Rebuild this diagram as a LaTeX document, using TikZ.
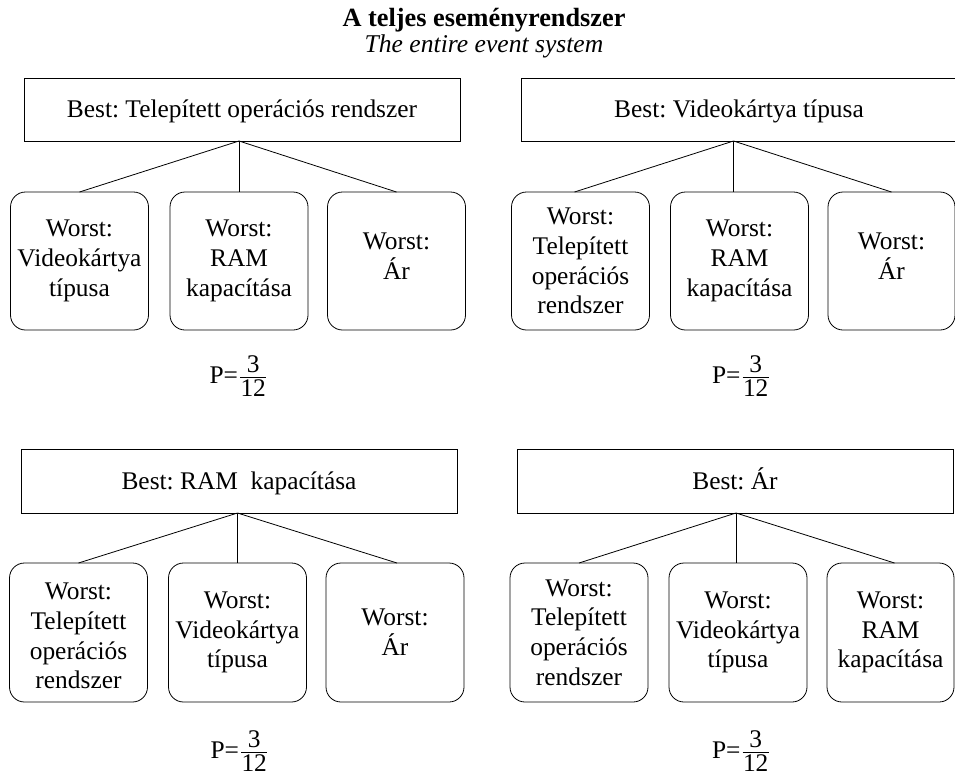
\documentclass[tikz,border=0pt]{standalone}
\usepackage{fontspec}
\setmainfont{Liberation Serif}
\frenchspacing
\newcommand\probfrac[2]{\mbox{P=}\kern2pt\lower13pt\vbox{\offinterlineskip\halign{\hfil##\hfil\cr #1\cr\noalign{\kern3.5pt\hrule height 1pt\kern1.6pt}\kern0.5pt#2\kern0.5pt\cr}}}
\begin{document}
\begin{tikzpicture}[x=1pt,y=-1pt,
  every node/.style={font=\fontsize{25.4}{29.7}\selectfont, inner sep=0pt, outer sep=0pt},
  bestbox/.style={draw, line width=0.8pt, minimum width=436pt, minimum height=63pt, text height=16.5pt, text depth=0pt},
  worstbox/.style={draw, line width=0.8pt, rounded corners=15pt, minimum width=138pt, minimum height=138pt, align=center},
  narrowbox/.style={worstbox, minimum width=127pt},
  conn/.style={line width=0.8pt},
  prob/.style={anchor=base},
]
\useasboundingbox (0,0) rectangle (955,780);
\clip (0,0) rectangle (955,780);

% title
\node[anchor=base, font=\fontsize{26.3}{30}\selectfont\bfseries] (title) at (484,26.5) {A teljes eseményrendszer};
\node[anchor=base, font=\fontsize{25.6}{30}\selectfont\itshape] (subtitle) at (484,52) {The entire event system};

% top-left group
\node[bestbox] (tlb) at (242,109.5) {Best: Telepített operációs rendszer};
\node[worstbox] (tl1) at (79.5,261) {Worst:\\Videokártya\\típusa};
\node[worstbox] (tl2) at (239,261) {Worst:\\RAM\\kapacítása};
\node[worstbox] (tl3) at (396.5,261) {Worst:\\Ár\rule[-10pt]{0pt}{0pt}};
\draw[conn] (tl2.north |- tlb.south) -- (tl1.north);
\draw[conn] (tl2.north |- tlb.south) -- (tl2.north);
\draw[conn] (tl2.north |- tlb.south) -- (tl3.north);
\node[prob] (tlp) at (238,383) {\probfrac{3}{12}};

% top-right group
\node[bestbox] (trb) at (739,109.5) {Best: Videokártya típusa};
\node[worstbox] (tr1) at (580.5,261) {Worst:\\Telepített\\operációs\\rendszer};
\node[worstbox] (tr2) at (739.5,261) {Worst:\\RAM\\kapacítása};
\node[narrowbox] (tr3) at (891.5,261) {Worst:\\Ár\rule[-10pt]{0pt}{0pt}};
\draw[conn] ([xshift=-6pt]tr2.north |- trb.south) -- ([xshift=-6pt]tr1.north);
\draw[conn] ([xshift=-6pt]tr2.north |- trb.south) -- ([xshift=-6pt]tr2.north);
\draw[conn] ([xshift=-6pt]tr2.north |- trb.south) -- (tr3.north);
\node[prob] (trp) at (740.5,383) {\probfrac{3}{12}};

% bottom-left group
\node[bestbox, minimum height=64pt] (blb) at (239,481) {Best: RAM\ \ kapacítása};
\node[worstbox, minimum height=139pt] (bl1) at (78.5,632.5) {\rule{0pt}{24pt}Worst:\\Telepített\\operációs\\rendszer};
\node[worstbox, minimum height=139pt] (bl2) at (237.5,632.5) {Worst:\\Videokártya\\típusa};
\node[worstbox, minimum height=139pt] (bl3) at (395,632.5) {Worst:\\Ár};
\draw[conn] (bl2.north |- blb.south) -- (bl1.north);
\draw[conn] (bl2.north |- blb.south) -- (bl2.north);
\draw[conn] (bl2.north |- blb.south) -- ([xshift=2pt]bl3.north);
\node[prob] (blp) at (239,758) {\probfrac{3}{12}};

% bottom-right group
\node[bestbox, minimum height=64pt] (brb) at (735,481) {Best: Ár};
\node[worstbox, minimum height=139pt] (br1) at (579,632.5) {Worst:\\Telepített\\operációs\\rendszer};
\node[worstbox, minimum height=139pt] (br2) at (738,632.5) {Worst:\\Videokártya\\típusa};
\node[narrowbox, minimum height=139pt] (br3) at (890.5,632.5) {Worst:\\RAM\\kapacítása};
\draw[conn] ([xshift=-2pt]br2.north |- brb.south) -- (br1.north);
\draw[conn] ([xshift=-2pt]br2.north |- brb.south) -- ([xshift=-2pt]br2.north);
\draw[conn] ([xshift=-2pt]br2.north |- brb.south) -- ([xshift=4pt]br3.north);
\node[prob] (brp) at (740.5,758) {\probfrac{3}{12}};
\end{tikzpicture}
\end{document}
